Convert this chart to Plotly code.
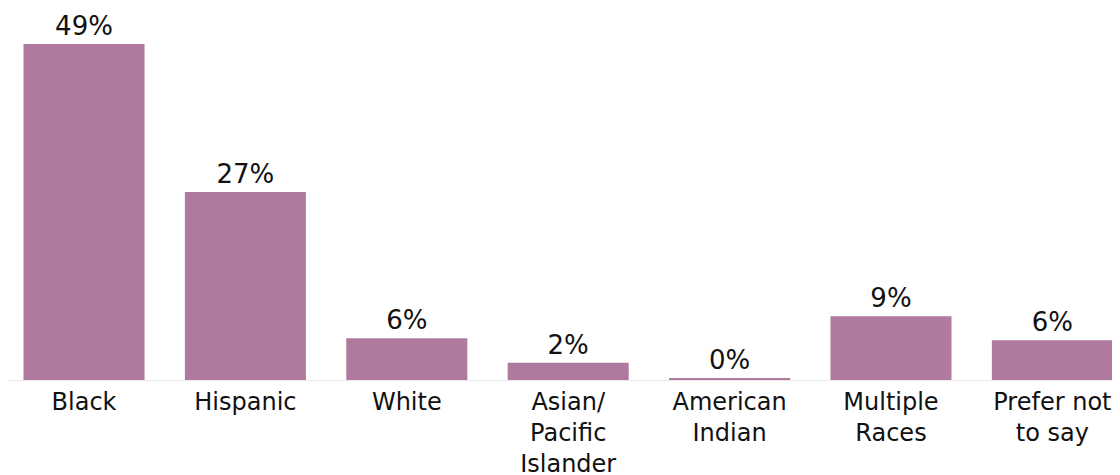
import plotly.graph_objects as go

categories = ["Black", "Hispanic", "White", "Asian/<br>Pacific<br>Islander", "American<br>Indian", "Multiple<br>Races", "Prefer not<br>to say"]
values = [49.0, 27.4, 6.1, 2.5, 0.3, 9.3, 5.8]
labels = ["49%", "27%", "6%", "2%", "0%", "9%", "6%"]

FONT = "DejaVu Sans"

fig = go.Figure(go.Bar(
    x=list(range(len(categories))),
    y=values,
    text=labels,
    textposition="outside",
    textfont=dict(size=26, color="#111111", family=FONT),
    marker=dict(color="#b07a9e", line=dict(width=0)),
    cliponaxis=False,
))

fig.update_layout(
    width=1112, height=467,
    margin=dict(l=0, r=0, t=0, b=95, autoexpand=False),
    paper_bgcolor="white", plot_bgcolor="white",
    bargap=0.25,
    showlegend=False,
    font=dict(family=FONT, size=24, color="#111111"),
)
fig.update_xaxes(
    tickmode="array", tickvals=list(range(len(categories))), ticktext=categories,
    range=[-0.471, 6.419], showgrid=False, zeroline=False, automargin=False,
    showline=True, linecolor="#e8e8e8", linewidth=1,
    ticks="", tickfont=dict(size=24, color="#111111", family=FONT),
)
fig.update_yaxes(range=[0, 54.25], visible=False, automargin=False)

fig.write_html("out.html")
